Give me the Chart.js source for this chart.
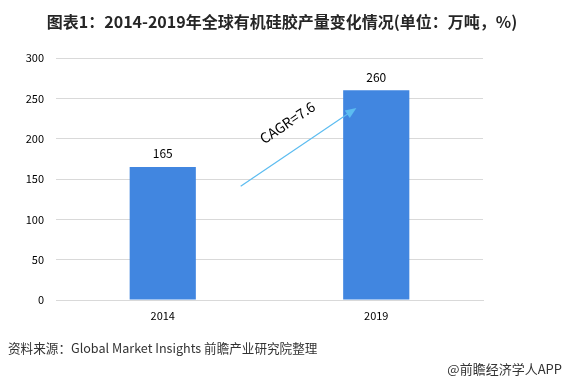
<!DOCTYPE html>
<html><head><meta charset="utf-8">
<script src="https://cdn.jsdelivr.net/npm/chart.js@4/dist/chart.umd.min.js"></script>
<style>html,body{margin:0;padding:0;background:#fff;}#wrap{position:relative;width:564px;height:381px;}</style>
</head><body><div id="wrap"><canvas id="c" width="564" height="381"></canvas></div>
<script>
const categories = ['2014', '2019'];
const production = [165, 260];
const yTicks = [0, 50, 100, 150, 200, 250, 300];
const titleText = '图表1：2014-2019年全球有机硅胶产量变化情况(单位：万吨，%)';
const sourceText = '资料来源：Global Market Insights 前瞻产业研究院整理';
const brandText = '@前瞻经济学人APP';
const cagrText = 'CAGR=7.6';
const arrowFrom = [0.365, 141];
const arrowTo = [0.907, 238];
const cagrPos = [0.584, 220];

const FONT = '"Noto Sans CJK SC", "Noto Sans", sans-serif';

const extras = {
  id: 'extras',
  afterDatasetsDraw(chart) {
    const ctx = chart.ctx, x = chart.scales.x, y = chart.scales.y;
    ctx.save();
    ctx.font = '12px ' + FONT; ctx.fillStyle = '#000'; ctx.textAlign = 'center'; ctx.textBaseline = 'middle';
    production.forEach((v, i) => { ctx.fillText(String(v), x.getPixelForValue(i), y.getPixelForValue(v) - 13); });
    const x1 = x.getPixelForValue(arrowFrom[0]), y1 = y.getPixelForValue(arrowFrom[1]);
    const x2 = x.getPixelForValue(arrowTo[0]), y2 = y.getPixelForValue(arrowTo[1]);
    const ang = Math.atan2(y2 - y1, x2 - x1);
    ctx.strokeStyle = '#5cbcf0'; ctx.fillStyle = '#5cbcf0'; ctx.lineWidth = 1.2;
    ctx.beginPath(); ctx.moveTo(x1, y1); ctx.lineTo(x2 - 8 * Math.cos(ang), y2 - 8 * Math.sin(ang)); ctx.stroke();
    ctx.beginPath(); ctx.moveTo(x2, y2);
    ctx.lineTo(x2 - 11 * Math.cos(ang) + 4.5 * Math.sin(ang), y2 - 11 * Math.sin(ang) - 4.5 * Math.cos(ang));
    ctx.lineTo(x2 - 11 * Math.cos(ang) - 4.5 * Math.sin(ang), y2 - 11 * Math.sin(ang) + 4.5 * Math.cos(ang));
    ctx.closePath(); ctx.fill();
    ctx.translate(x.getPixelForValue(cagrPos[0]), y.getPixelForValue(cagrPos[1]));
    ctx.rotate(ang);
    ctx.font = '14px ' + FONT; ctx.fillStyle = '#000'; ctx.textAlign = 'center'; ctx.textBaseline = 'middle';
    ctx.fillText(cagrText, 0, 0);
    ctx.restore();
    ctx.save();
    ctx.fillStyle = '#262626'; ctx.textBaseline = 'middle'; ctx.textAlign = 'center';
    ctx.font = 'bold 16px ' + FONT;
    ctx.fillText(titleText, 282, 22);
    ctx.textAlign = 'left'; ctx.font = '12.6px ' + FONT; ctx.fillStyle = '#333';
    ctx.fillText(sourceText, 8, 348);
    ctx.textAlign = 'right'; ctx.font = '13px ' + FONT;
    ctx.fillText(brandText, 562, 369);
    ctx.restore();
  }
};

new Chart(document.getElementById('c'), {
  type: 'bar',
  data: { labels: categories, datasets: [{ data: production, backgroundColor: '#4186e0', barPercentage: 0.62, categoryPercentage: 0.5 }] },
  options: {
    responsive: false, animation: false, devicePixelRatio: 1,
    layout: { padding: { left: 0, right: 81, top: 58, bottom: 0 } },
    plugins: { legend: { display: false }, tooltip: { enabled: false }, title: { display: false } },
    scales: {
      x: {
        grid: { display: false, drawTicks: false },
        border: { color: '#d9d9d9', width: 1 },
        ticks: { color: '#000', font: { size: 11, family: FONT }, padding: 9 },
        afterFit(s) { s.height = 81; }
      },
      y: {
        min: 0, max: 300,
        afterBuildTicks(s) { s.ticks = yTicks.map(v => ({ value: v })); },
        grid: { color: '#d9d9d9', drawTicks: false, lineWidth: 1 },
        border: { display: false },
        ticks: { color: '#000', font: { size: 11, family: FONT }, padding: 12 },
        afterFit(s) { s.width = 56; }
      }
    }
  },
  plugins: [extras]
});
</script></body></html>
